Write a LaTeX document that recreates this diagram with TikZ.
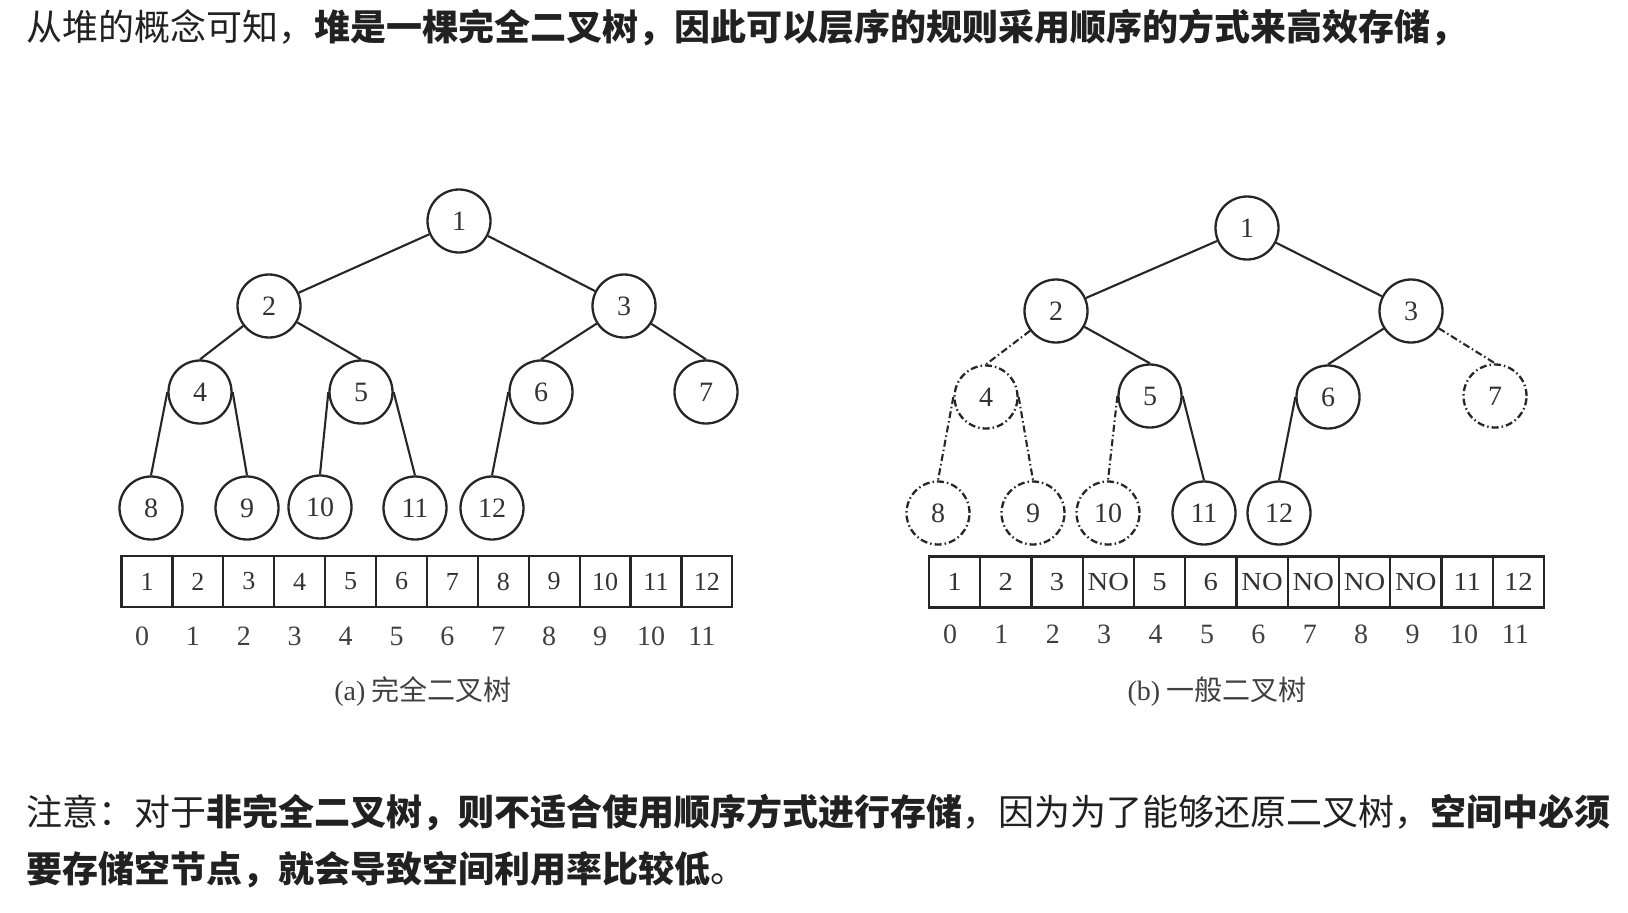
\documentclass[tikz,border=0pt]{standalone}
\usepackage{fontspec}
\setmainfont{Liberation Serif}
\newfontfamily\cjk{Noto Sans CJK SC}

\begin{document}
\begin{tikzpicture}[x=1pt,y=-1pt,
    vtx/.style={draw=black!85,line width=2.3pt,circle,minimum size=63pt,inner sep=0pt,
                font=\fontsize{28}{28}\selectfont,text=black!80},
    gone/.style={vtx,dash pattern=on 7pt off 3pt on 1.5pt off 3pt},
    edge/.style={draw=black!85,line width=2.1pt},
    gapedge/.style={edge,dash pattern=on 7pt off 3pt on 1.5pt off 3pt},
    cell/.style={draw=black!85,line width=2.1pt,minimum width=51pt,minimum height=51pt,inner sep=0pt,
                 font=\fontsize{26}{26}\selectfont,text=black!80},
    idx/.style={font=\fontsize{28}{28}\selectfont,text=black!75},
    caption/.style={font=\cjk\fontsize{28}{28}\selectfont,text=black!75},
    body/.style={anchor=west,inner sep=0pt,font=\cjk\fontsize{36}{36}\selectfont,text=black!87}]
    \fill[white] (0,0) rectangle (1628,913);
    \useasboundingbox (0,0) rectangle (1628,913);

    \node[body] (top) at (26,28) {从堆的概念可知，\textbf{堆是一棵完全二叉树，因此可以层序的规则采用顺序的方式来高效存储，}};

    % (a) complete tree
    \node[vtx] (l1) at (459,221) {1};
    \node[vtx] (l2) at (269,306) {2};
    \node[vtx] (l3) at (624,306) {3};
    \node[vtx] (l4) at (200,392) {4};
    \node[vtx] (l5) at (361,392) {5};
    \node[vtx] (l6) at (541,392) {6};
    \node[vtx] (l7) at (706,392) {7};
    \node[vtx] (l8) at (151,508) {8};
    \node[vtx] (l9) at (247,508) {9};
    \node[vtx] (l10) at (320,507) {10};
    \node[vtx] (l11) at (415,508) {11};
    \node[vtx] (l12) at (492,508) {12};
    \draw[edge] (l1) -- (l2);
    \draw[edge] (l1) -- (l3);
    \draw[edge] (l2) -- (l4.north);
    \draw[edge] (l2) -- (l5.north);
    \draw[edge] (l3) -- (l6.north);
    \draw[edge] (l3) -- (l7.north);
    \draw[edge] (l4.west) -- (l8.north);
    \draw[edge] (l4.east) -- (l9.north);
    \draw[edge] (l5.west) -- (l10.north);
    \draw[edge] (l5.east) -- (l11.north);
    \draw[edge] (l6.west) -- (l12.north);

    \foreach \v [count=\i from 0] in {1,...,12} {
        \node[cell] (la\i) at ({147+50.9*\i},581.5) {\v};
        \node[idx] (li\i) at ({142+50.9*\i},636) {\i};
    }
    \node[caption] (capa) at (423,692) {{\rmfamily(a)} 完全二叉树};

    % (b) general tree
    \node[vtx] (r1) at (1247,228) {1};
    \node[vtx] (r2) at (1056,311) {2};
    \node[vtx] (r3) at (1411,311) {3};
    \node[gone] (r4) at (986,397) {4};
    \node[vtx] (r5) at (1150,396) {5};
    \node[vtx] (r6) at (1328,397) {6};
    \node[gone] (r7) at (1495,396) {7};
    \node[gone] (r8) at (938,513) {8};
    \node[gone] (r9) at (1033,513) {9};
    \node[gone] (r10) at (1108,513) {10};
    \node[vtx] (r11) at (1204,513) {11};
    \node[vtx] (r12) at (1279,513) {12};
    \draw[edge] (r1) -- (r2);
    \draw[edge] (r1) -- (r3);
    \draw[gapedge] (r2) -- (r4.north);
    \draw[edge] (r2) -- (r5.north);
    \draw[edge] (r3) -- (r6.north);
    \draw[gapedge] (r3) -- (r7.north);
    \draw[gapedge] (r4.west) -- (r8.north);
    \draw[gapedge] (r4.east) -- (r9.north);
    \draw[gapedge] (r5.west) -- (r10.north);
    \draw[edge] (r5.east) -- (r11.north);
    \draw[edge] (r6.west) -- (r12.north);

    \foreach \v [count=\i from 0] in {1,2,3,NO,5,6,NO,NO,NO,NO,11,12} {
        \node[cell] (ra\i) at ({954.6+51.25*\i},582) {\scalebox{1.1}[1]{\v}};
        \node[idx] (ri\i) at ({950+51.4*\i},634) {\i};
    }
    \node[caption] (capb) at (1217,692) {{\rmfamily(b)} 一般二叉树};

    \node[body] (note1) at (26,813) {注意：对于\textbf{非完全二叉树，则不适合使用顺序方式进行存储}，因为为了能够还原二叉树，\textbf{空间中必须}};
    \node[body] (note2) at (26,870) {\textbf{要存储空节点，就会导致空间利用率比较低}。};
\end{tikzpicture}
\end{document}
